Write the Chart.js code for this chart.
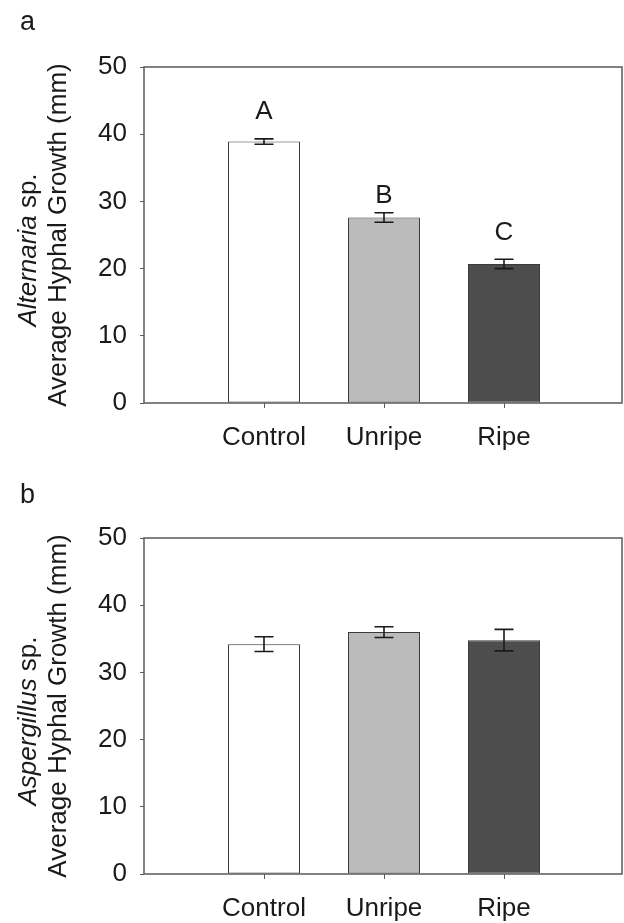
<!DOCTYPE html>
<html>
<head>
<meta charset="utf-8">
<script src="https://cdn.jsdelivr.net/npm/chart.js@4.4.1/dist/chart.umd.min.js"></script>
<style>
  body { margin: 0; background: #fff; }
  canvas { display: block; }
</style>
</head>
<body>
<canvas id="panelA" width="624" height="471"></canvas>
<canvas id="panelB" width="624" height="452"></canvas>
<script>
// data
const categories = ['Control', 'Unripe', 'Ripe'];
const alternariaMeans = [38.9, 27.6, 20.7];
const alternariaErr = [0.4, 0.7, 0.7];
const alternariaLetters = ['A', 'B', 'C'];
const alternariaLetterY = [42.3, 29.8, 24.3];
const aspergillusMeans = [34.2, 36.0, 34.8];
const aspergillusErr = [1.1, 0.8, 1.6];
const yTicks = [0, 10, 20, 30, 40, 50];
const barColors = ['#ffffff', '#bbbbbb', '#4d4d4d'];

const FONT = 'Liberation Sans, Arial, sans-serif';
const FS = 26;
Chart.defaults.font.family = FONT;
Chart.defaults.color = '#1a1a1a';

// pad the category axis with an empty slot on each side
const labels = [''].concat(categories, ['']);
const pad = arr => [null].concat(arr, [null]);

// frame, error bars, letters, axis title, panel tag
const extras = {
    id: 'extras',
    afterDatasetsDraw(chart, args, opts) {
        const ctx = chart.ctx;
        const area = chart.chartArea;
        const y = chart.scales.y;
        const meta = chart.getDatasetMeta(0);

        ctx.save();
        ctx.strokeStyle = '#5a5a5a';
        ctx.lineWidth = 1.5;
        ctx.strokeRect(area.left, area.top, area.right - 2 - area.left, area.bottom - area.top);

        ctx.strokeStyle = '#1a1a1a';
        ctx.lineWidth = 1.6;
        opts.means.forEach((m, i) => {
            const x = meta.data[i + 1].x;
            const hi = y.getPixelForValue(m + opts.errs[i]);
            const lo = y.getPixelForValue(m - opts.errs[i]);
            ctx.beginPath();
            ctx.moveTo(x, hi); ctx.lineTo(x, lo);
            ctx.moveTo(x - 9.5, hi); ctx.lineTo(x + 9.5, hi);
            ctx.moveTo(x - 9.5, lo); ctx.lineTo(x + 9.5, lo);
            ctx.stroke();
        });

        ctx.fillStyle = '#1a1a1a';
        ctx.textAlign = 'center';
        ctx.textBaseline = 'alphabetic';
        ctx.font = FS + 'px ' + FONT;
        (opts.letters || []).forEach((t, i) => {
            ctx.fillText(t, meta.data[i + 1].x, y.getPixelForValue(opts.letterY[i]));
        });

        // panel tag
        ctx.textAlign = 'left';
        ctx.font = '27px ' + FONT;
        ctx.fillText(opts.tag, 20, opts.tagY);

        // two-line rotated y title, genus in italics
        const cy = (area.top + area.bottom) / 2;
        ctx.translate(0, cy);
        ctx.rotate(-Math.PI / 2);
        ctx.font = 'italic ' + FS + 'px ' + FONT;
        const wItal = ctx.measureText(opts.genus).width;
        ctx.font = FS + 'px ' + FONT;
        const wRest = ctx.measureText(' sp.').width;
        const start = -15 - (wItal + wRest) / 2;
        ctx.font = 'italic ' + FS + 'px ' + FONT;
        ctx.fillText(opts.genus, start, 36);
        ctx.font = FS + 'px ' + FONT;
        ctx.fillText(' sp.', start + wItal, 36);
        ctx.textAlign = 'center';
        ctx.fillText('Average Hyphal Growth (mm)', 0, 66);
        ctx.restore();
    }
};

function makeChart(id, means, errs, plotBottom, extraOpts) {
    const canvas = document.getElementById(id);
    return new Chart(canvas, {
        type: 'bar',
        data: {
            labels: labels,
            datasets: [{
                data: pad(means),
                backgroundColor: pad(barColors),
                borderColor: '#3a3a3a',
                borderWidth: 1,
                borderSkipped: false,
                barPercentage: 0.6,
                categoryPercentage: 1.0
            }]
        },
        options: {
            responsive: false,
            animation: false,
            layout: { padding: { left: 0, top: 67, right: 0, bottom: 0 } },
            plugins: {
                legend: { display: false },
                tooltip: { enabled: false },
                extras: Object.assign({ means: means, errs: errs }, extraOpts)
            },
            scales: {
                x: {
                    offset: false,
                    border: { display: false },
                    grid: {
                        offset: false,
                        drawOnChartArea: false,
                        tickLength: 5,
                        color: c => (c.index === 0 || c.index === labels.length - 1) ? 'rgba(0,0,0,0)' : '#5a5a5a'
                    },
                    ticks: { autoSkip: false, maxRotation: 0, padding: 14, font: { size: FS }, color: '#1a1a1a' },
                    afterFit: s => {
                        s.height = canvas.height - plotBottom;
                        s.paddingLeft = 0;
                        s.paddingRight = 0;
                    }
                },
                y: {
                    min: 0,
                    max: 50,
                    border: { display: false },
                    grid: { drawOnChartArea: false, tickLength: 4, color: '#5a5a5a' },
                    afterBuildTicks: s => { s.ticks = yTicks.map(v => ({ value: v })); },
                    ticks: { padding: 13, font: { size: FS }, color: '#1a1a1a' },
                    afterFit: s => { s.width = 144; }
                }
            }
        },
        plugins: [extras]
    });
}

makeChart('panelA', alternariaMeans, alternariaErr, 403, {
    letters: alternariaLetters, letterY: alternariaLetterY,
    genus: 'Alternaria', tag: 'a', tagY: 30
});
makeChart('panelB', aspergillusMeans, aspergillusErr, 403, {
    genus: 'Aspergillus', tag: 'b', tagY: 32
});
</script>
</body>
</html>
